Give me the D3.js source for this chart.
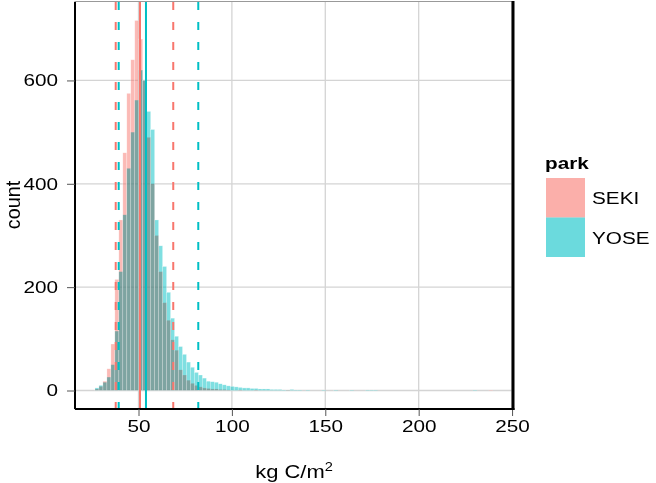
<!DOCTYPE html>
<html>
<head>
<meta charset="utf-8">
<script src="https://cdn.jsdelivr.net/npm/d3@7"></script>
<style>
  body { margin: 0; background: #fff; }
  text { font-family: "Liberation Sans", Arial, sans-serif; }
</style>
</head>
<body>
<div id="svg_container"></div>
<script>
// data (counts per bin, bins start at 26.7 and are 2.13 wide)
const parks = ["SEKI", "YOSE"];
const binStart = 26.7, binWidth = 2.13;

const sekiCounts = [3, 8, 18, 42, 90, 215, 330, 460, 575, 640, 716, 680, 600, 490, 400, 300, 230, 170, 136, 98,
  78, 40, 30, 20, 14, 10, 7, 5, 4, 3, 3, 2, 2, 1, 0, 0, 1, 0, 0, 0, 1, 0, 0, 0, 0, 0, 0, 0, 1, 0,
  0, 0, 0, 0, 0, 0, 0, 0, 0, 0, 0, 0, 0, 0, 0, 0, 0, 0, 0, 0, 0, 0, 0, 0, 0, 0, 0, 0, 0, 0,
  0, 0, 0, 0, 0, 0, 0, 0, 0, 0, 0, 0, 0, 0, 0, 0, 0, 0, 0, 1];

const yoseCounts = [5, 10, 16, 26, 50, 115, 230, 340, 430, 500, 562, 620, 600, 540, 505, 330, 280, 240, 190, 140,
  105, 85, 70, 55, 45, 35, 30, 24, 18, 17, 16, 13, 11, 9, 8, 7, 6, 5, 5, 4, 4, 3, 3, 3, 2, 2, 2, 1, 1, 2,
  1, 1, 0, 1, 0, 0, 0, 1, 0, 0, 1, 0, 0, 0, 1, 0, 0, 0, 1, 1, 1, 0, 0, 0, 0, 0, 0, 0, 0, 0,
  0, 0, 0, 0, 0, 0, 0, 0, 0, 0, 0, 0, 0, 0, 0, 1, 0, 0, 0, 0];

// lower, median and upper lines per park
const sekiLines = [37.8, 50.8, 68.6];
const yoseLines = [39.4, 54.0, 82.0];

const xTicks = [50, 100, 150, 200, 250];
const yTicks = [0, 200, 400, 600];

// constants
const width = 656, height = 483;
const colors = {SEKI: "#F8766D", YOSE: "#00BFC4"};
const fillOpacity = 0.5;
const stretch = 1.22;   // text in the picture is drawn wide

const svg = d3.select("#svg_container")
  .append("svg")
  .attr("width", width)
  .attr("height", height);

// scales (panel from x 75..513, y 2..409)
const x = d3.scaleLinear().domain([16, 250.5]).range([75, 513]);
const y = d3.scaleLinear().domain([-35.8, 751.8]).range([409, 2]);

// grid
svg.append("g")
  .attr("stroke", "#d4d4d4")
  .attr("stroke-width", 1.3)
  .call(g => g.selectAll(".gx").data(xTicks).join("line")
    .attr("x1", d => x(d)).attr("x2", d => x(d))
    .attr("y1", y.range()[1]).attr("y2", y.range()[0]))
  .call(g => g.selectAll(".gy").data(yTicks).join("line")
    .attr("x1", x.range()[0]).attr("x2", x.range()[1])
    .attr("y1", d => y(d)).attr("y2", d => y(d)));

// bins for each park; the overlap in the picture looks multiplied (grey-teal)
const series = [
  {park: "SEKI", counts: sekiCounts},
  {park: "YOSE", counts: yoseCounts}
];

const barLayer = svg.append("g").style("isolation", "isolate");

series.forEach(s => {
  barLayer.append("g")
    .style("mix-blend-mode", "multiply")
    .attr("fill", colors[s.park])
    .attr("fill-opacity", fillOpacity)
    .attr("stroke", "#fff")
    .attr("stroke-opacity", 0.5)
    .attr("stroke-width", 0.5)
    .selectAll("rect")
    .data(s.counts.map((c, i) => ({x0: binStart + i * binWidth, x1: binStart + (i + 1) * binWidth, c: c})))
    .join("rect")
    .filter(d => d.c > 0)
    .attr("x", d => x(d.x0))
    .attr("width", d => x(d.x1) - x(d.x0))
    .attr("y", d => y(d.c))
    .attr("height", d => y(0) - y(d.c));
});

// vertical lines: dashed at the outer values, solid at the median
const lineData = [];
[["SEKI", sekiLines], ["YOSE", yoseLines]].forEach(([park, vals]) => {
  vals.forEach((v, i) => lineData.push({park: park, v: v, dashed: i !== 1}));
});

svg.append("g")
  .selectAll("line")
  .data(lineData)
  .join("line")
  .attr("x1", d => x(d.v)).attr("x2", d => x(d.v))
  .attr("y1", y.range()[1]).attr("y2", y.range()[0])
  .attr("stroke", d => colors[d.park])
  .attr("stroke-width", 2)
  .attr("stroke-dasharray", d => d.dashed ? "8,12" : null);

// panel border
svg.append("rect")
  .attr("x", 75).attr("y", 1.5)
  .attr("width", 438).attr("height", 407.5)
  .attr("fill", "none")
  .attr("stroke", "#999")
  .attr("stroke-width", 1);

// axes
const xAxis = svg.append("g")
  .attr("transform", `translate(0,${y.range()[0]})`)
  .call(d3.axisBottom(x).tickValues(xTicks).tickSize(7).tickPadding(4));

const yAxis = svg.append("g")
  .attr("transform", `translate(${x.range()[0]},0)`)
  .call(d3.axisLeft(y).tickValues(yTicks).tickSize(8).tickPadding(8));

[xAxis, yAxis].forEach(a => {
  a.select(".domain").attr("stroke", "#000").attr("stroke-width", 2);
  a.selectAll(".tick line").attr("stroke", "#555");
  a.selectAll(".tick text")
    .attr("fill", "#000")
    .style("font-size", "17px")
    .style("font-family", "'Liberation Sans', Arial, sans-serif");
});
xAxis.selectAll(".tick text").attr("transform", `scale(${stretch},1)`);
yAxis.selectAll(".tick text")
  .attr("x", -17 / stretch)
  .attr("transform", `scale(${stretch},1)`);
xAxis.select(".domain").attr("d", `M${x.range()[0]},0H${x.range()[1] + 1.5}`);
yAxis.select(".domain").attr("d", `M0,${y.range()[1]}V${y.range()[0]}`);

// right edge is drawn heavy
svg.append("line")
  .attr("x1", 513).attr("x2", 513)
  .attr("y1", 1).attr("y2", 410)
  .attr("stroke", "#000")
  .attr("stroke-width", 3);

// axis titles
const xTitle = svg.append("text")
  .attr("transform", `translate(${(x.range()[0] + x.range()[1]) / 2},478) scale(${stretch},1)`)
  .attr("text-anchor", "middle")
  .style("font-size", "18px");
xTitle.append("tspan").text("kg C/m");
xTitle.append("tspan").attr("dy", -7).style("font-size", "12px").text("2");

svg.append("text")
  .attr("transform", "translate(20,205) rotate(-90) scale(1.1,1.1)")
  .attr("text-anchor", "middle")
  .style("font-size", "18px")
  .text("count");

// legend
const legend = svg.append("g").attr("transform", "translate(545,0)");

legend.append("text")
  .attr("transform", `translate(0,169) scale(${stretch},1)`)
  .style("font-size", "17px")
  .style("font-weight", "bold")
  .text("park");

legend.selectAll("rect")
  .data(parks)
  .join("rect")
  .attr("x", 1)
  .attr("y", (d, i) => 178 + i * 39.5)
  .attr("width", 39).attr("height", 39.5)
  .attr("fill", d => colors[d])
  .attr("fill-opacity", 0.58);

legend.selectAll(".lab")
  .data(parks)
  .join("text")
  .attr("transform", (d, i) => `translate(47,${204 + i * 39.5}) scale(${stretch},1)`)
  .style("font-size", "17px")
  .text(d => d);
</script>
</body>
</html>
